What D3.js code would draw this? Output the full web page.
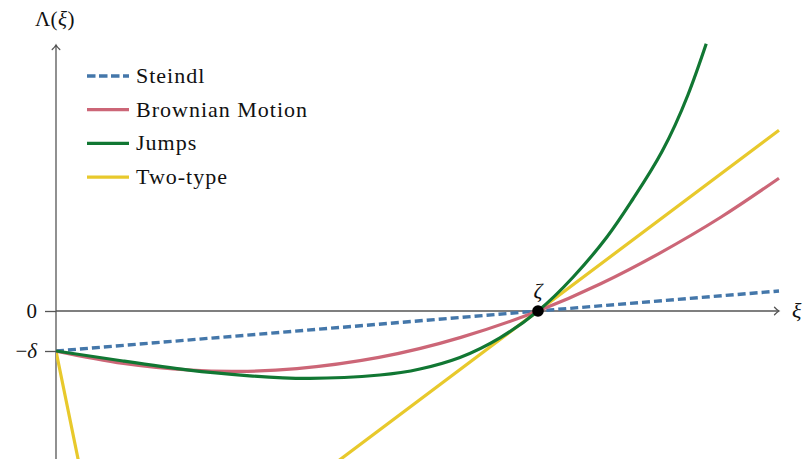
<!DOCTYPE html>
<html>
<head>
<meta charset="utf-8">
<script src="https://cdn.jsdelivr.net/npm/d3@7"></script>
<style>
  body { margin: 0; background: #fff; }
  svg text { fill: #111; }
</style>
</head>
<body>
<div id="chart"></div>
<script>
// values (xi, Lambda), with zeta = 1 and delta = 1
const seriesNames = ["Steindl", "Brownian Motion", "Jumps", "Two-type"];
const seriesColors = ["#4477AA", "#CC6677", "#117733", "#E8C92C"];

const steindlXi = [0, 1.5];
const steindlVal = [-1, 0.5];

const brownXi = [0, 0.14, 0.28, 0.38, 0.5, 0.67, 0.84, 1.0, 1.13, 1.25, 1.38, 1.5];
const brownVal = [-1, -1.31, -1.48, -1.51, -1.44, -1.16, -0.66, 0, 0.68, 1.43, 2.35, 3.32];

const jumpXi = [0, 0.139, 0.276, 0.402, 0.527, 0.672, 0.755, 0.838, 0.921, 1.0, 1.073, 1.143, 1.197, 1.257, 1.311, 1.349];
const jumpVal = [-1, -1.25, -1.48, -1.62, -1.685, -1.6, -1.45, -1.16, -0.67, 0, 0.85, 1.85, 2.8, 3.98, 5.4, 6.68];

const twoXi = [0, 0.06, 0.55, 1.5];
const twoVal = [-1, -4.54, -4.07, 4.52];

const yTicks = [0, -1];
const yTickLabels = ["0", "−δ"];
const zeta = 1;

const width = 804;
const height = 459;
const serif = "'Liberation Serif', 'Times New Roman', Times, serif";

const x = d3.scaleLinear().domain([0, 1.5]).range([56, 779]);
const y = d3.scaleLinear().domain([-3.7, 6.65]).range([459, 45]);

const svg = d3.select("#chart")
    .append("svg")
        .attr("width", width)
        .attr("height", height)
        .attr("font-family", serif);

const defs = svg.append("defs");
defs.append("marker")
    .attr("id", "arrow")
    .attr("markerUnits", "userSpaceOnUse")
    .attr("viewBox", "-6 -5 8 10")
    .attr("refX", 0).attr("refY", 0)
    .attr("markerWidth", 8).attr("markerHeight", 10)
    .attr("orient", "auto")
  .append("path")
    .attr("d", "M-4.5,-3.8 Q-2,-1 0,0 Q-2,1 -4.5,3.8")
    .attr("fill", "none")
    .attr("stroke", "#555")
    .attr("stroke-width", 1.3)
    .attr("stroke-linecap", "round");

defs.append("clipPath").attr("id", "plot")
  .append("rect")
    .attr("x", 56).attr("y", 43)
    .attr("width", 730).attr("height", 420);

// axes
const yAxis = svg.append("g")
    .attr("transform", "translate(56,0)")
    .call(d3.axisLeft(y)
        .tickValues(yTicks)
        .tickFormat("")
        .tickSize(11)
        .tickSizeOuter(0));

const xAxis = svg.append("g")
    .attr("transform", "translate(0," + y(0) + ")")
    .call(d3.axisBottom(x)
        .tickValues([zeta])
        .tickFormat("")
        .tickSize(5)
        .tickSizeOuter(0));

[yAxis, xAxis].forEach(g => {
    g.select(".domain")
        .attr("stroke", "#555")
        .attr("stroke-width", 1.3)
        .attr("marker-end", "url(#arrow)");
    g.selectAll(".tick line")
        .attr("stroke", "#555")
        .attr("stroke-width", 1.3);
});
xAxis.select(".domain").attr("d", "M56,0H779");
yAxis.select(".domain").attr("d", "M0,470V45");
xAxis.selectAll(".tick line").attr("y1", -5);

function label(xp, yp, size) {
    return svg.append("text")
        .attr("x", xp)
        .attr("y", yp)
        .attr("font-family", serif)
        .attr("font-size", size);
}

// tick labels
yTicks.forEach((t, i) => {
    const lab = label(37, y(t) + 7, 21).attr("text-anchor", "end");
    if (yTickLabels[i] === "0") {
        lab.text("0");
    } else {
        lab.append("tspan").text("−");
        lab.append("tspan").attr("font-style", "italic").text("δ");
    }
});

const yLab = label(55, 26, 21)
    .attr("text-anchor", "middle")
    .attr("letter-spacing", 0.5);
yLab.append("tspan").text("Λ(");
yLab.append("tspan").attr("font-style", "italic").text("ξ");
yLab.append("tspan").text(")");

label(792, y(0) + 7, 22)
    .attr("font-style", "italic")
    .text("ξ");

// curves
const line = d3.line()
    .x(d => x(d[0]))
    .y(d => y(d[1]));

const curves = [
    { pts: d3.zip(steindlXi, steindlVal), curve: d3.curveLinear, dash: "8,4" },
    { pts: d3.zip(brownXi, brownVal), curve: d3.curveNatural, dash: null },
    { pts: d3.zip(jumpXi, jumpVal), curve: d3.curveNatural, dash: null },
    { pts: d3.zip(twoXi, twoVal), curve: d3.curveLinear, dash: null }
];

const plot = svg.append("g").attr("clip-path", "url(#plot)");
// draw order: blue, yellow, red, green
[0, 3, 1, 2].forEach(i => {
    plot.append("path")
        .attr("d", line.curve(curves[i].curve)(curves[i].pts))
        .attr("fill", "none")
        .attr("stroke", seriesColors[i])
        .attr("stroke-width", i === 0 ? 3.4 : 3.2)
        .attr("stroke-dasharray", curves[i].dash)
        .attr("stroke-linejoin", "round");
});

// zeta point
svg.append("circle")
    .attr("cx", x(zeta))
    .attr("cy", y(0))
    .attr("r", 5.8)
    .attr("fill", "#000");

label(x(zeta), y(0) - 13, 22)
    .attr("text-anchor", "middle")
    .attr("font-style", "italic")
    .text("ζ");

// legend
seriesNames.forEach((name, i) => {
    const ly = 76 + i * 33.7;
    svg.append("line")
        .attr("x1", 87).attr("x2", 129)
        .attr("y1", ly).attr("y2", ly)
        .attr("stroke", seriesColors[i])
        .attr("stroke-width", i === 0 ? 3.4 : 3.2)
        .attr("stroke-dasharray", i === 0 ? "8.5,3.5" : null);
    label(136, ly + 7, 22)
        .attr("letter-spacing", 1)
        .text(name);
});
</script>
</body>
</html>
